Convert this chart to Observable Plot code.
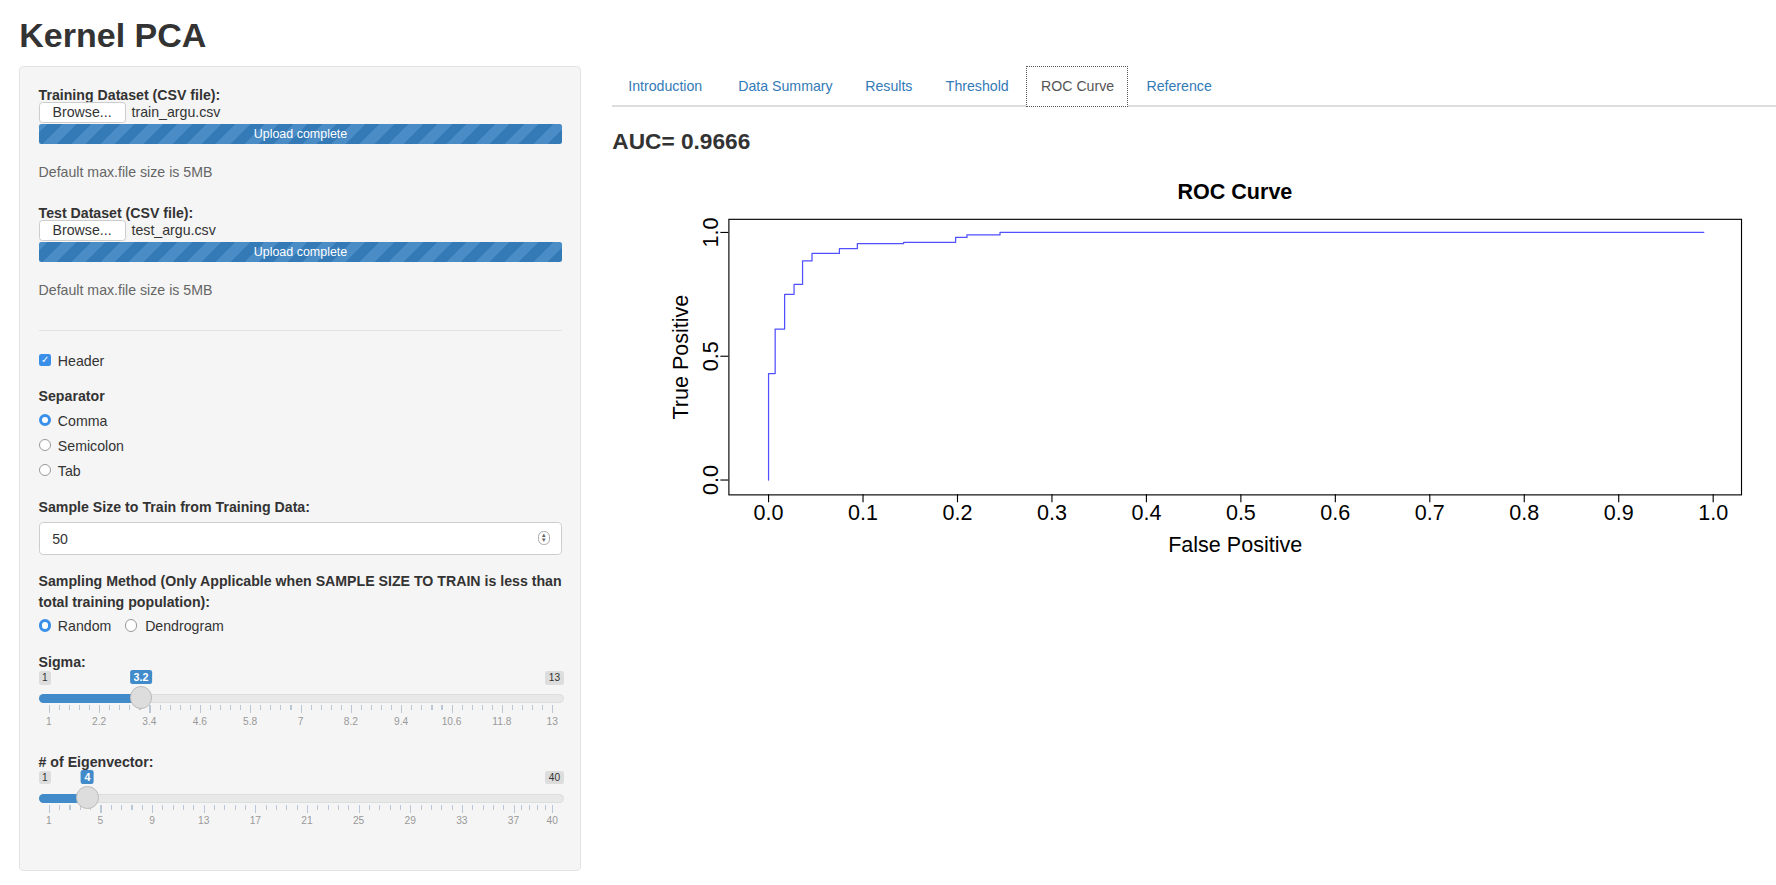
<!DOCTYPE html>
<html><head><meta charset="utf-8">
<script src="https://cdn.jsdelivr.net/npm/d3@7"></script>
<script src="https://cdn.jsdelivr.net/npm/@observablehq/plot@0.6"></script>
<style>
body{margin:0;background:#fff;font-family:"Liberation Sans",Arial,sans-serif;color:#333;zoom:1.134;}
#page{position:relative;width:1566px;height:780px;overflow:hidden}
.a{position:absolute;white-space:nowrap}
.b{font-weight:bold;font-size:12.5px}
.s{font-size:12.5px}
.g{font-size:12.5px;color:#666}
.btn{background:#fff;border:1px solid #ccc;border-radius:3px;font-size:12.5px;text-align:center;line-height:16px}
.bar{background:repeating-linear-gradient(-45deg,#337ab7 0 9px,#4a8cc6 9px 18px);color:#fff;font-size:11px;text-align:center;border-radius:2px}
.rad{width:11px;height:11px;border-radius:50%;border:1px solid #999;background:#fff;box-sizing:border-box}
.rad.on{border:3.5px solid #3a8fe8}
.tab{font-size:12.5px;color:#337ab7}
.lbl{font-size:9px;color:#999;transform:translateX(-50%)}
.tk{width:1px;background:#b9c7d6}
</style></head><body>
<div id="page">
<div class="a" style="left:17px;top:14px;font-size:30px;font-weight:bold">Kernel PCA</div>
<div class="a" style="left:17px;top:58px;width:494px;height:708px;background:#f5f5f5;border:1px solid #e3e3e3;border-radius:4px"></div>
<div id="side"></div>
<div class="a" style="left:540px;top:93px;width:1026px;height:1px;background:#ddd"></div>
<div class="a" style="left:905px;top:58px;width:88px;height:35px;border:1px dotted #555;background:#fff"></div>
<div class="a tab" style="left:554px;top:69px">Introduction</div>
<div class="a tab" style="left:651px;top:69px">Data Summary</div>
<div class="a tab" style="left:763px;top:69px">Results</div>
<div class="a tab" style="left:834px;top:69px">Threshold</div>
<div class="a tab" style="left:918px;top:69px;color:#555">ROC Curve</div>
<div class="a tab" style="left:1011px;top:69px">Reference</div>
<div class="a" style="left:540px;top:113px;font-size:20px;font-weight:bold">AUC= 0.9666</div>
<div class="a" style="left:580px;top:159px;width:1018px;text-align:center;font-size:19px;font-weight:bold;color:#000">ROC Curve</div>
<div class="a" id="chart" style="left:580px;top:150px"></div>
</div>
<script>
// ROC step points
const fpr = [0, 0, 0.007, 0.017, 0.027, 0.036, 0.046, 0.075, 0.094, 0.143, 0.198, 0.21, 0.245, 0.99];
const tpr = [0, 0.43, 0.61, 0.75, 0.79, 0.885, 0.915, 0.935, 0.955, 0.96, 0.98, 0.99, 1.0, 1.0];
const xTicks = d3.range(0, 11).map(i => i / 10);
const yTicks = [0, 0.5, 1];
const roc = fpr.map((x, i) => ({x, y: tpr[i]}));

const chart = Plot.plot({
  width: 980, height: 340,
  marginLeft: 62, marginRight: 25, marginTop: 43, marginBottom: 54,
  style: {fontFamily: "Liberation Sans, Arial", fontSize: "19px", color: "#000", background: "transparent"},
  x: {domain: [-0.042, 1.030]},
  y: {domain: [-0.06, 1.053]},
  marks: [
    Plot.frame({stroke: "#000"}),
    Plot.axisX({ticks: xTicks, tickFormat: ".1f", tickSize: 7, tickPadding: 2, fontSize: 19,
      label: "False Positive", labelAnchor: "center", labelArrow: "none", labelOffset: 50}),
    Plot.axisY({ticks: yTicks, tickFormat: ".1f", tickSize: 7, tickRotate: -90, fontSize: 19,
      label: "True Positive", labelAnchor: "center", labelArrow: "none", labelOffset: 50}),
    Plot.line(roc, {x: "x", y: "y", curve: "step-after", stroke: "#5050ff", strokeWidth: 1.1})
  ]
});
d3.select("#chart").append(() => chart);

// sidebar widgets
const side = document.getElementById("side");
function add(html){ side.insertAdjacentHTML("beforeend", html); }
function file(y, label, name){
  add(`<div class="a b" style="left:34px;top:${y}px">${label}</div>
  <div class="a btn" style="left:34px;top:${y+13}px;width:75px;height:17px">Browse...</div>
  <div class="a s" style="left:116px;top:${y+15}px">${name}</div>
  <div class="a bar" style="left:34px;top:${y+32}px;width:462px;height:18px;line-height:18px">Upload complete</div>
  <div class="a g" style="left:34px;top:${y+68}px">Default max.file size is 5MB</div>`);
}
file(77, "Training Dataset (CSV file):", "train_argu.csv");
file(181, "Test Dataset (CSV file):", "test_argu.csv");
add(`<div class="a" style="left:34px;top:291px;width:462px;height:1px;background:#e3e3e3"></div>
<div class="a" style="left:34px;top:312px;width:11px;height:11px;background:#3a8fe8;border-radius:2px;color:#fff;font-size:9px;line-height:11px;text-align:center">✓</div>
<div class="a s" style="left:51px;top:311px">Header</div>
<div class="a b" style="left:34px;top:342px">Separator</div>
<div class="a rad on" style="left:34px;top:365px"></div><div class="a s" style="left:51px;top:364px">Comma</div>
<div class="a rad" style="left:34px;top:387px"></div><div class="a s" style="left:51px;top:386px">Semicolon</div>
<div class="a rad" style="left:34px;top:409px"></div><div class="a s" style="left:51px;top:408px">Tab</div>
<div class="a b" style="left:34px;top:440px">Sample Size to Train from Training Data:</div>
<div class="a" style="left:34px;top:460px;width:460px;height:28px;background:#fff;border:1px solid #ccc;border-radius:4px"></div>
<div class="a s" style="left:46px;top:468px">50</div>
<div class="a" style="left:474px;top:468px;width:9px;height:11px;border:1px solid #aaa;border-radius:5px;font-size:6px;line-height:5px;text-align:center;color:#666">▴<br>▾</div>
<div class="a b" style="left:34px;top:505px">Sampling Method (Only Applicable when SAMPLE SIZE TO TRAIN is less than</div>
<div class="a b" style="left:34px;top:524px">total training population):</div>
<div class="a rad on" style="left:34px;top:546px"></div><div class="a s" style="left:51px;top:545px">Random</div>
<div class="a rad" style="left:110px;top:546px"></div><div class="a s" style="left:128px;top:545px">Dendrogram</div>`);
function slider(y, label, min, max, val, labels){
  const x0 = 43, x1 = 487, px = v => x0 + (v - min) / (max - min) * (x1 - x0);
  let h = `<div class="a b" style="left:34px;top:${y}px">${label}</div>
  <div class="a" style="left:34px;top:${y+15}px;font-size:9px;background:#ddd;color:#333;padding:1px 3px;border-radius:2px">${min}</div>
  <div class="a" style="left:481px;top:${y+15}px;font-size:9px;background:#ddd;color:#333;padding:1px 3px;border-radius:2px">${max}</div>
  <div class="a" style="left:34px;top:${y+35}px;width:462px;height:6px;background:#e8e8e8;border:1px solid #ddd;border-radius:4px"></div>
  <div class="a" style="left:34px;top:${y+35}px;width:${px(val)-34}px;height:8px;background:#428bca;border-radius:4px"></div>`;
  labels.forEach((v, i) => {
    h += `<div class="a tk" style="left:${px(v)}px;top:${y+45}px;height:7px"></div>
    <div class="a lbl" style="left:${px(v)}px;top:${y+54}px">${v}</div>`;
    if (i < labels.length - 1) for (let k = 1; k < 5; k++) {
      const xm = px(v) + (px(labels[i+1]) - px(v)) * k / 5;
      h += `<div class="a tk" style="left:${xm}px;top:${y+45}px;height:4px"></div>`;
    }
  });
  h += `<div class="a" style="left:${px(val)}px;top:${y+14}px;transform:translateX(-50%);font-size:9.5px;font-weight:bold;background:#428bca;color:#fff;padding:1px 3px;border-radius:2px">${val}</div>
  <div class="a" style="left:${px(val)-10}px;top:${y+28}px;width:20px;height:20px;border-radius:50%;background:#ddd;border:1px solid #bbb;box-sizing:border-box"></div>`;
  add(h);
}
slider(577, "Sigma:", 1, 13, 3.2, [1, 2.2, 3.4, 4.6, 5.8, 7, 8.2, 9.4, 10.6, 11.8, 13]);
slider(665, "# of Eigenvector:", 1, 40, 4, [1, 5, 9, 13, 17, 21, 25, 29, 33, 37, 40]);
</script>
</body></html>
